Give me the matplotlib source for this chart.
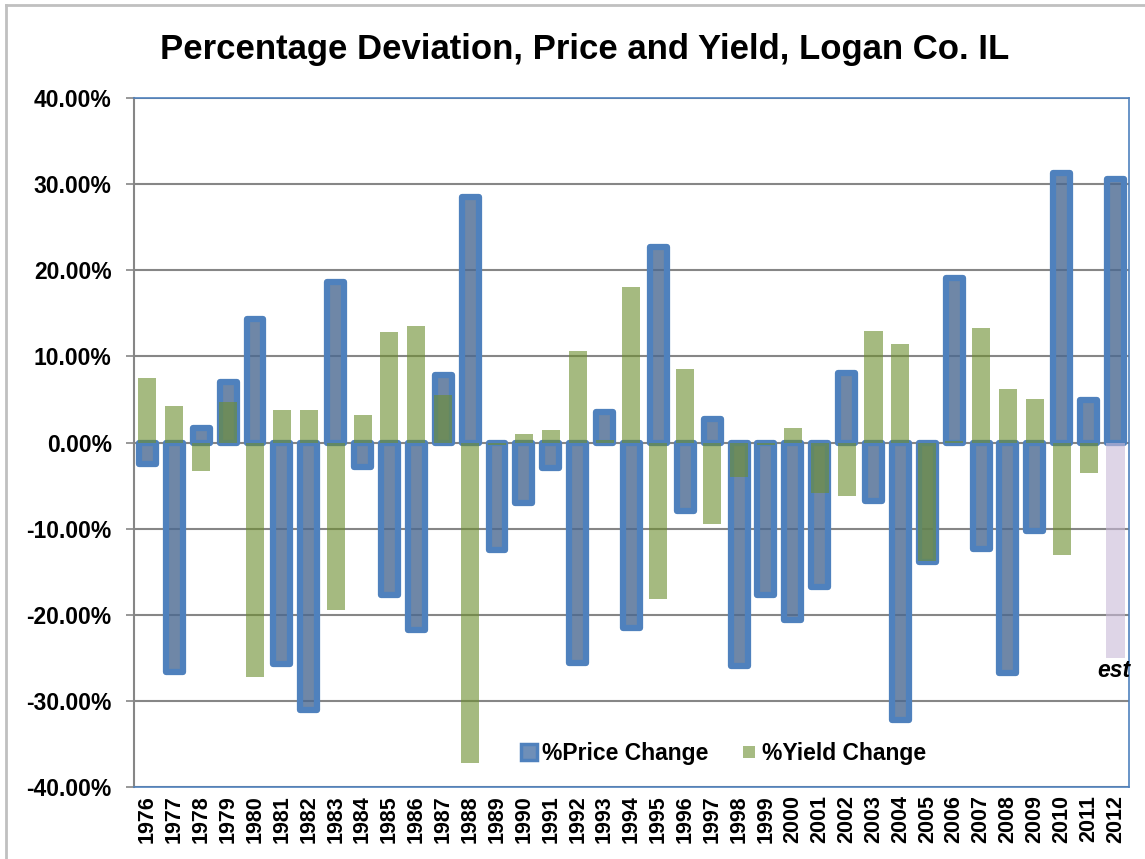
import numpy as np
import matplotlib.pyplot as plt
from matplotlib.lines import Line2D
from matplotlib.ticker import FuncFormatter

years = list(range(1976, 2013))
price_change = [-2.5, -26.6, 1.7, 7.0, 14.4, -25.7, -31.0, 18.7, -2.8, -17.7,
                -21.8, 7.8, 28.5, -12.5, -7.0, -3.0, -25.6, 3.5, -21.5, 22.7,
                -8.0, 2.7, -26.0, -17.7, -20.6, -16.8, 8.1, -6.8, -32.2, -13.9,
                19.1, -12.4, -26.8, -10.3, 31.3, 4.9, 30.6]
yield_change = [7.5, 4.2, -3.3, 4.7, -27.2, 3.8, 3.8, -19.5, 3.2, 12.8,
                13.5, 5.5, -37.2, -0.3, 1.0, 1.5, 10.6, 0.3, 18.1, -18.2,
                8.5, -9.4, -4.0, -0.3, 1.7, -5.9, -6.2, 13.0, 11.5, -13.8,
                0.2, 13.3, 6.2, 5.1, -13.1, -3.5]
yield_est_2012 = -25.0

blue_edge = '#4F81BD'
blue_fill = (75 / 255, 105 / 255, 145 / 255, 0.8)
green = (109 / 255, 142 / 255, 47 / 255, 0.61)
lavender = (200 / 255, 185 / 255, 215 / 255, 0.6)
grid_gray = '#868686'

plt.rcParams['font.family'] = ['Liberation Sans', 'DejaVu Sans']
plt.rcParams['font.weight'] = 'bold'

fig = plt.figure(figsize=(11.45, 8.59), dpi=100)
ax = fig.add_axes([0.117, 0.0838, 0.869, 0.802])

x = np.arange(len(years))
ax.set_axisbelow(True)
bars = ax.bar(x, price_change, width=0.63, facecolor=blue_fill,
              edgecolor=blue_edge, linewidth=4.5, zorder=2)
for b in bars:
    b.set_joinstyle('round')
ax.bar(x[:-1], yield_change, width=0.67, color=green, linewidth=0, zorder=3)
ax.bar(x[-1], yield_est_2012, width=0.7, color=lavender, linewidth=0, zorder=3)
ax.text(x[-1] - 0.05, yield_est_2012 - 1.5, 'est', ha='center', va='center',
        fontsize=16.5, fontstyle='italic', fontweight='bold')

ax.set_xlim(-0.5, len(years) - 0.5)
ax.set_ylim(-40, 40)
ax.set_yticks(np.arange(-40, 41, 10))
ax.yaxis.set_major_formatter(FuncFormatter(lambda v, p: '%.2f%%' % v))
ax.yaxis.grid(True, color=grid_gray, linewidth=1.5, zorder=0)
ax.set_xticks(x)
ax.set_xticklabels([str(y) for y in years], rotation=90, fontsize=15.5,
                   fontweight='bold')
ax.tick_params(axis='x', length=0, pad=6)
ax.tick_params(axis='y', length=6, width=1.2, color=grid_gray, labelsize=16.5,
               pad=10)
for lab in ax.get_yticklabels():
    lab.set_fontweight('bold')

for side in ['top', 'right', 'bottom']:
    ax.spines[side].set_color(blue_edge)
    ax.spines[side].set_linewidth(1.2)
ax.spines['left'].set_color(grid_gray)
ax.spines['left'].set_linewidth(1.5)

handles = [
    Line2D([], [], marker='s', linestyle='none', markersize=11,
           markerfacecolor='#6F8FB8', markeredgecolor=blue_edge,
           markeredgewidth=2.5),
    Line2D([], [], marker='s', linestyle='none', markersize=8,
           markerfacecolor='#A6BB82', markeredgewidth=0),
]
ax.legend(handles, ['%Price Change', '%Yield Change'], ncol=2, frameon=False,
          loc='center', bbox_to_anchor=(0.592, 0.049), handlelength=0.8,
          handletextpad=0.15, columnspacing=1.4,
          prop={'size': 16.5, 'weight': 'bold'})

fig.suptitle('Percentage Deviation, Price and Yield, Logan Co. IL',
             x=0.511, y=0.962, fontsize=25, fontweight='bold')

# outer chart frame (only left and top edges visible)
fig.add_artist(Line2D([6 / 1145, 6 / 1145], [0, 1 - 5 / 859],
                      transform=fig.transFigure, color='#C0C0C0', linewidth=2))
fig.add_artist(Line2D([6 / 1145, 1], [1 - 5 / 859, 1 - 5 / 859],
                      transform=fig.transFigure, color='#C0C0C0', linewidth=2))

fig.savefig('out.png', dpi=100)
